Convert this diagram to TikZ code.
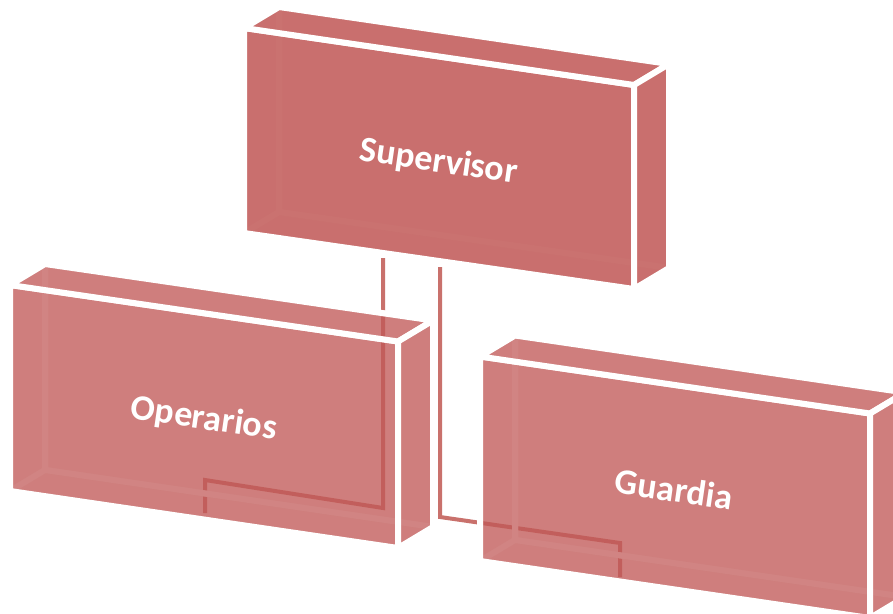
\documentclass[tikz,border=0pt]{standalone}
\usepackage{fontspec}
\setmainfont{Carlito}
\usetikzlibrary{calc}
\definecolor{boxc}{RGB}{193,90,88}
\definecolor{connc}{RGB}{201,113,108}
\tikzset{
  face/.style={fill=boxc, draw=white, line width=6pt, line join=round},
  conn/.style={draw=connc, line width=4pt},
  lbl/.style={text=white, font=\bfseries\fontsize{36}{40}\selectfont, inner sep=0pt, anchor=base, rotate=-8.3}
}
\newcommand\cuboid[3]{%
  \coordinate (#1E) at ($(#1A)+(35,-21)$);
  \coordinate (#1F) at ($(#1B)+(35,-21)$);
  \coordinate (#1G) at ($(#1C)+(35,-21)$);
  \coordinate (#1H) at ($(#1D)+(35,-21)$);
  \filldraw[face, fill opacity=#2] (#1E)--(#1F)--(#1G)--(#1H)--cycle;
  \filldraw[face, fill opacity=#2] (#1A)--(#1E)--(#1H)--(#1D)--cycle;
  \filldraw[face, fill opacity=#2] (#1D)--(#1H)--(#1G)--(#1C)--cycle;
  \filldraw[face, fill opacity=#3] (#1A)--(#1B)--(#1C)--(#1D)--cycle;
  \filldraw[face, fill opacity=#3] (#1A)--(#1E)--(#1F)--(#1B)--cycle;
  \filldraw[face, fill opacity=#3] (#1B)--(#1F)--(#1G)--(#1C)--cycle;
}
\begin{document}
\begin{tikzpicture}[x=1pt,y=-1pt]
\useasboundingbox (0,0) rectangle (893,613);
\clip (0,0) rectangle (893,613);
% Supervisor box
\coordinate (supA) at (244,28);
\coordinate (supB) at (634,85);
\coordinate (supC) at (634,289);
\coordinate (supD) at (244,233);
\cuboid{sup}{0.12}{0.85}
\node[lbl] (supervisor) at (437,172) {Supervisor};
% connectors
\coordinate (c1s) at (383,258);
\coordinate (c1a) at (383,508);
\coordinate (c1b) at (205,480);
\coordinate (c1e) at (205,513);
\coordinate (c2s) at (440,267);
\coordinate (c2a) at (440,517);
\coordinate (c2b) at (620,543);
\coordinate (c2e) at (620,577);
\draw[conn] (c1s) -- (c1a) -- (c1b) -- (c1e);
\draw[conn] (c2s) -- (c2a) -- (c2b) -- (c2e);
% Operarios box
\coordinate (opA) at (10,285);
\coordinate (opB) at (398,341.5);
\coordinate (opC) at (398,548);
\coordinate (opD) at (10,491);
\cuboid{op}{0.15}{0.74}
\node[lbl] (operarios) at (202.5,429) {Operarios};
% Guardia box
\coordinate (guA) at (480,356.5);
\coordinate (guB) at (870,413.5);
\coordinate (guC) at (870,618);
\coordinate (guD) at (480,561);
\cuboid{gu}{0.15}{0.74}
\node[lbl] (guardia) at (672.5,501.5) {Guardia};
\end{tikzpicture}
\end{document}
